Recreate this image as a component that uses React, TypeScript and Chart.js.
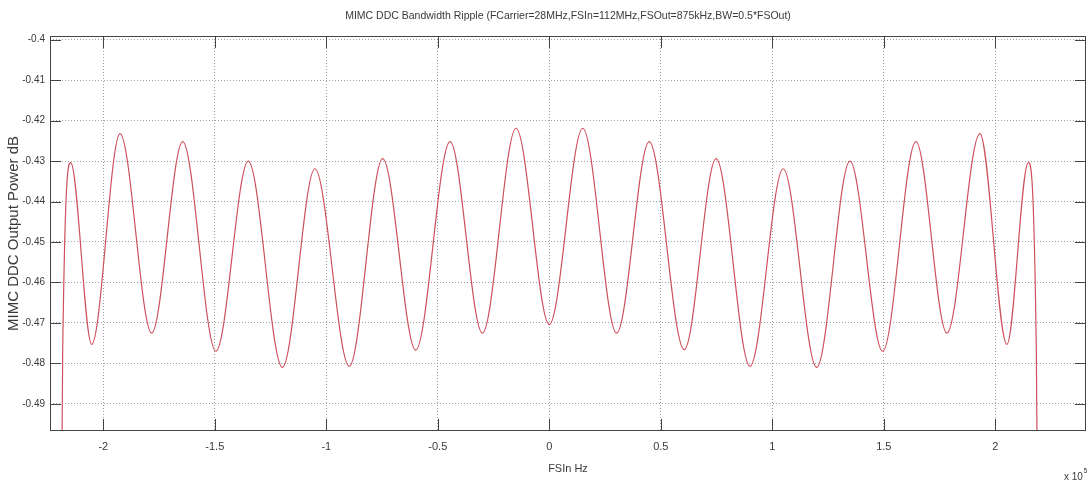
import React, { useEffect, useRef } from "react";
import { Chart, registerables } from "chart.js";

Chart.register(...registerables);

// Frequency in units of 1e5 Hz (axis shows "x 10^5")
const freqE5 = [
  -2.1875, -2.182, -2.146, -2.052, -1.925, -1.783, -1.644, -1.495, -1.35, -1.197,
  -1.051, -0.897, -0.747, -0.599, -0.445, -0.3, -0.149, 0, 0.15, 0.302,
  0.448, 0.605, 0.748, 0.9, 1.049, 1.199, 1.348, 1.495, 1.644, 1.783,
  1.931, 2.052, 2.148, 2.184, 2.1895,
];

// MIMC DDC output power in dB
const powerDb = [
  -0.52, -0.4765, -0.4304, -0.4753, -0.4232, -0.4725, -0.4252, -0.477, -0.43, -0.481,
  -0.4319, -0.4807, -0.4294, -0.4767, -0.4252, -0.4725, -0.4219, -0.4704, -0.4219, -0.4725,
  -0.4252, -0.4766, -0.4294, -0.4807, -0.4319, -0.481, -0.43, -0.477, -0.4252, -0.4725,
  -0.4232, -0.4753, -0.4304, -0.477, -0.52,
];

const xTickValues = [-2, -1.5, -1, -0.5, 0, 0.5, 1, 1.5, 2];
const xTickLabels = ["-2", "-1.5", "-1", "-0.5", "0", "0.5", "1", "1.5", "2"];
const yTickValues = [-0.49, -0.48, -0.47, -0.46, -0.45, -0.44, -0.43, -0.42, -0.41, -0.4];
const yTickLabels = ["-0.49", "-0.48", "-0.47", "-0.46", "-0.45", "-0.44", "-0.43", "-0.42", "-0.41", "-0.4"];

const xLimits = [-2.239, 2.4067];
const yLimits = [-0.4967, -0.3991];

const titleText = "MIMC DDC Bandwidth Ripple (FCarrier=28MHz,FSIn=112MHz,FSOut=875kHz,BW=0.5*FSOut)";
const xAxisTitle = "FSIn Hz";
const yAxisTitle = "MIMC DDC Output Power dB";
const xExponentBase = "x 10";
const xExponent = "5";

const FONT = "'Liberation Sans', Arial, sans-serif";
const TEXT_COLOR = "#3a3a3a";
const AXIS_COLOR = "#444";
const GRID_COLOR = "rgba(120,120,120,0.7)";

const framePlugin = {
  id: "matlabFrame",
  afterDatasetsDraw(chart: any) {
    const { ctx, chartArea: a, scales } = chart;
    ctx.save();
    ctx.strokeStyle = AXIS_COLOR;
    ctx.lineWidth = 1;
    ctx.strokeRect(a.left + 0.5, a.top + 0.5, a.right - a.left - 1, a.bottom - a.top - 1);
    ctx.beginPath();
    for (const v of xTickValues) {
      const px = Math.round(scales.x.getPixelForValue(v)) + 0.5;
      ctx.moveTo(px, a.bottom);
      ctx.lineTo(px, a.bottom - 12);
      ctx.moveTo(px, a.top);
      ctx.lineTo(px, a.top + 12);
    }
    for (const v of yTickValues) {
      const py = Math.round(scales.y.getPixelForValue(v)) + 0.5;
      ctx.moveTo(a.left, py);
      ctx.lineTo(a.left + 11, py);
      ctx.moveTo(a.right, py);
      ctx.lineTo(a.right - 11, py);
    }
    ctx.stroke();
    ctx.restore();
  },
  afterDraw(chart: any) {
    const { ctx, chartArea: a } = chart;
    ctx.save();
    ctx.fillStyle = TEXT_COLOR;
    ctx.textBaseline = "middle";
    ctx.textAlign = "left";
    ctx.font = `10px ${FONT}`;
    const baseX = a.right - 22;
    ctx.fillText(xExponentBase, baseX, 477);
    const w = ctx.measureText(xExponentBase).width;
    ctx.font = `7px ${FONT}`;
    ctx.fillText(xExponent, baseX + w + 0.5, 471);
    ctx.restore();
  },
};

export default function App() {
  const canvasRef = useRef<HTMLCanvasElement | null>(null);

  useEffect(() => {
    const canvas = canvasRef.current;
    if (!canvas) return;
    const chart = new Chart(canvas, {
      type: "line",
      data: {
        datasets: [
          {
            data: freqE5.map((x, i) => ({ x, y: powerDb[i] })),
            borderColor: "rgb(205,80,92)",
            borderWidth: 1.2,
            pointRadius: 0,
            fill: false,
            cubicInterpolationMode: "monotone",
          },
        ],
      },
      options: {
        responsive: false,
        animation: false,
        layout: { padding: { left: 0, right: 4, top: 0, bottom: 0 } },
        plugins: {
          legend: { display: false },
          tooltip: { enabled: false },
          title: {
            display: true,
            text: titleText,
            fullSize: false,
            color: TEXT_COLOR,
            font: { family: FONT, size: 10.5, weight: "normal", lineHeight: 1.2 },
            padding: { top: 10, bottom: 13.4 },
          },
        },
        scales: {
          x: {
            type: "linear",
            min: xLimits[0],
            max: xLimits[1],
            afterBuildTicks: (s: any) => {
              s.ticks = xTickValues.map((v) => ({ value: v }));
            },
            afterFit: (s: any) => {
              s.height = 50;
            },
            grid: { color: GRID_COLOR, lineWidth: 1, drawTicks: false },
            border: { display: false, dash: [1, 2] },
            ticks: {
              autoSkip: false,
              maxRotation: 0,
              padding: 9,
              color: TEXT_COLOR,
              font: { family: FONT, size: 11 },
              callback: (_v: any, i: number) => xTickLabels[i],
            },
            title: {
              display: true,
              text: xAxisTitle,
              color: TEXT_COLOR,
              font: { family: FONT, size: 11, lineHeight: 1.2 },
              padding: { top: 0, bottom: 5 },
            },
          },
          y: {
            type: "linear",
            min: yLimits[0],
            max: yLimits[1],
            afterBuildTicks: (s: any) => {
              s.ticks = yTickValues.map((v) => ({ value: v }));
            },
            afterFit: (s: any) => {
              s.width = 50;
            },
            grid: { color: GRID_COLOR, lineWidth: 1, drawTicks: false },
            border: { display: false, dash: [1, 2] },
            ticks: {
              autoSkip: false,
              padding: 5,
              color: TEXT_COLOR,
              font: { family: FONT, size: 10 },
              callback: (_v: any, i: number) => yTickLabels[i],
            },
            title: {
              display: true,
              text: yAxisTitle,
              color: TEXT_COLOR,
              font: { family: FONT, size: 15, lineHeight: 1.2 },
              padding: { top: 5, bottom: 0 },
            },
          },
        },
      },
      plugins: [framePlugin],
    } as any);
    return () => chart.destroy();
  }, []);

  return (
    <div style={{ position: "absolute", left: 0, top: 0, width: 1090, height: 481, background: "#fff" }}>
      <canvas ref={canvasRef} width={1090} height={481} style={{ display: "block" }} />
    </div>
  );
}
